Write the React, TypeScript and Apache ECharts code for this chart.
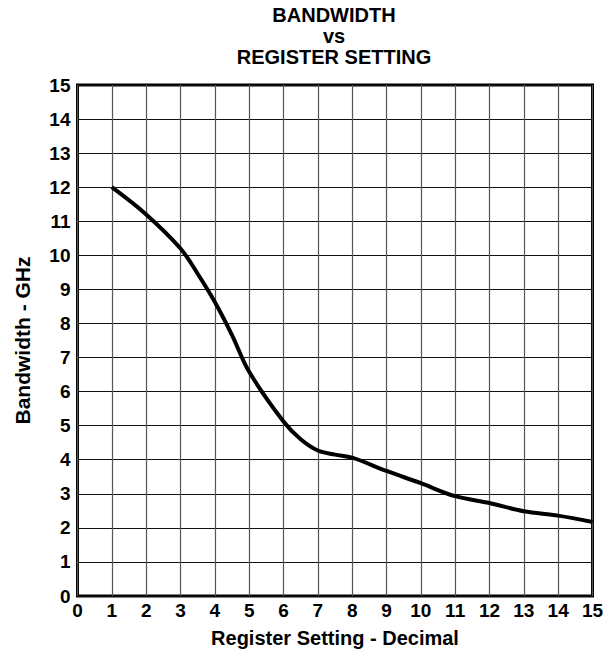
import React, { useEffect, useRef } from "react";
import * as echarts from "echarts";

const registerSetting = [1, 2, 3, 3.5, 4, 4.5, 5, 6, 6.5, 7, 7.5, 8, 9, 10, 11, 12, 13, 14, 15];
const bandwidthGHz = [12.0, 11.2, 10.2, 9.46, 8.63, 7.66, 6.58, 5.12, 4.6, 4.27, 4.15, 4.06, 3.67, 3.31, 2.93, 2.73, 2.49, 2.36, 2.17];
const titleLines = ["BANDWIDTH", "vs", "REGISTER SETTING"];
const xAxisName = "Register Setting - Decimal";
const yAxisName = "Bandwidth - GHz";

const FONT = "'Liberation Sans', Arial, Helvetica, sans-serif";

export default function App() {
  const ref = useRef<HTMLDivElement>(null);
  useEffect(() => {
    if (!ref.current) return;
    const chart = echarts.init(ref.current, null, { renderer: "svg" });
    const data = registerSetting.map((x, i) => [x, bandwidthGHz[i]]);
    chart.setOption({
      animation: false,
      backgroundColor: "#fff",
      textStyle: { fontFamily: FONT },
      grid: {
        left: 77.5,
        right: 19.5,
        top: 85,
        bottom: 56,
        show: true,
        borderColor: "#000",
        borderWidth: 3,
        containLabel: false,
      },
      graphic: titleLines.map((t, i) => ({
        type: "text",
        x: 334,
        y: [14.5, 35.5, 56.5][i],
        style: {
          text: t,
          fontFamily: FONT,
          fontWeight: "bold",
          fontSize: 20,
          fill: "#000",
          textAlign: "center",
          textVerticalAlign: "middle",
        },
      })),
      xAxis: {
        type: "value",
        min: 0,
        max: 15,
        interval: 1,
        name: xAxisName,
        nameLocation: "middle",
        nameGap: 32,
        nameTextStyle: { fontFamily: FONT, fontWeight: "bold", fontSize: 20, color: "#000" },
        axisLine: { show: false },
        axisTick: { show: false },
        axisLabel: { fontFamily: FONT, fontWeight: "bold", fontSize: 19, color: "#000", margin: 5 },
        splitLine: { show: true, lineStyle: { color: "#555", width: 1.2 } },
      },
      yAxis: {
        type: "value",
        min: 0,
        max: 15,
        interval: 1,
        name: yAxisName,
        nameLocation: "middle",
        nameGap: 45,
        nameTextStyle: { fontFamily: FONT, fontWeight: "bold", fontSize: 21, color: "#000" },
        axisLine: { show: false },
        axisTick: { show: false },
        axisLabel: { fontFamily: FONT, fontWeight: "bold", fontSize: 19, color: "#000", margin: 7 },
        splitLine: { show: true, lineStyle: { color: "#111", width: 1 } },
      },
      series: [
        {
          type: "line",
          data,
          smooth: 0.35,
          showSymbol: false,
          symbol: "none",
          lineStyle: { color: "#000", width: 4 },
          z: 5,
        },
      ],
    });
    return () => chart.dispose();
  }, []);
  return (
    <div
      ref={ref}
      style={{ position: "fixed", left: 0, top: 0, width: 612, height: 653, background: "#fff" }}
    />
  );
}
